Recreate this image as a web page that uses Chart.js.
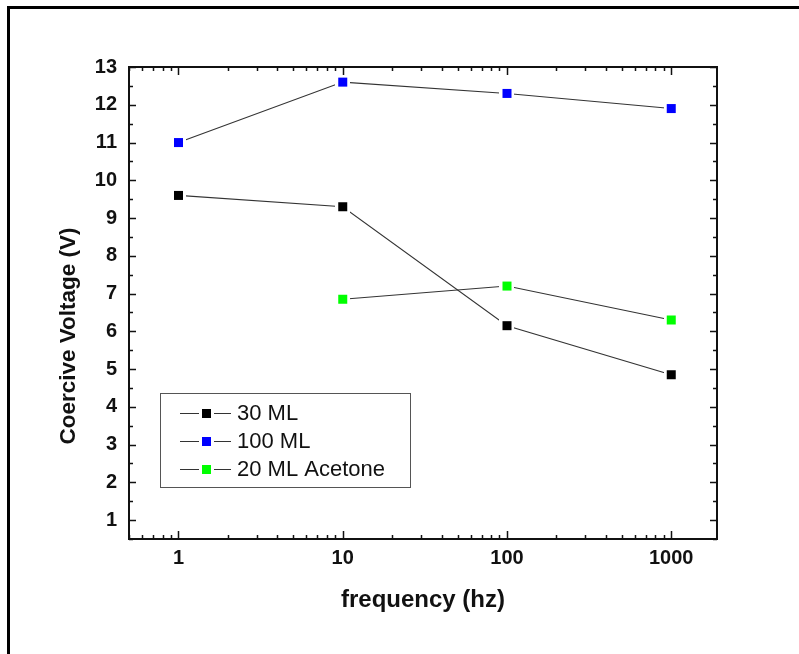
<!DOCTYPE html>
<html><head><meta charset="utf-8">
<script src="https://cdn.jsdelivr.net/npm/chart.js@4/dist/chart.umd.min.js"></script>
<style>html,body{margin:0;padding:0;background:#fff;overflow:hidden}#wrap{width:799px;height:654px;position:relative}</style>
</head><body><div id="wrap"><canvas id="c" width="799" height="654"></canvas></div>
<script>
// ---- data ----
const frequencies = [1, 10, 100, 1000];
const ml30 = [9.6, 9.3, 6.15, 4.85];
const ml100 = [11.0, 12.6, 12.3, 11.9];
const acetone20 = [null, 6.85, 7.2, 6.3];
const seriesNames = ['30 ML', '100 ML', '20 ML Acetone'];
const seriesColors = ['#000000', '#0000ff', '#00ff00'];
const xTickValues = [1, 10, 100, 1000];
const yTickValues = [1, 2, 3, 4, 5, 6, 7, 8, 9, 10, 11, 12, 13];
const xAxisTitle = 'frequency (hz)';
const yAxisTitle = 'Coercive Voltage (V)';

const FONT = '"Liberation Sans", Arial, Helvetica, sans-serif';

function markerImg(color, size, halo) {
  const c = document.createElement('canvas');
  const s = size + 2 * halo;
  c.width = s; c.height = s;
  const g = c.getContext('2d');
  g.fillStyle = '#ffffff'; g.fillRect(0, 0, s, s);
  g.fillStyle = color; g.fillRect(halo, halo, size, size);
  return c;
}

function toPoints(ys) {
  return frequencies.map((f, i) => ({ x: f, y: ys[i] }));
}

const seriesValues = [ml30, ml100, acetone20];
const datasets = seriesValues.map((vals, i) => ({
  label: seriesNames[i],
  data: toPoints(vals),
  borderColor: '#333333',
  borderWidth: 1.1,
  pointStyle: markerImg(seriesColors[i], 9, 3),
  pointRadius: 6,
  backgroundColor: seriesColors[i],
  tension: 0,
  spanGaps: false
}));

// minor tick positions (log decades, half-units)
const xMinor = [];
[0.1, 1, 10, 100, 1000].forEach(d => { for (let k = 2; k <= 9; k++) { const v = d * k; if (v >= 0.5 && v <= 1900) xMinor.push(v); } });
const yMinor = [];
for (let v = 0.5; v <= 13; v += 1) yMinor.push(v);

const framePlugin = {
  id: 'frame',
  beforeDraw(chart) {
    const ctx = chart.ctx;
    ctx.save();
    ctx.strokeStyle = '#000';
    ctx.lineWidth = 3;
    ctx.beginPath();
    ctx.moveTo(8.5, 654); ctx.lineTo(8.5, 7.5); ctx.lineTo(799, 7.5);
    ctx.stroke();
    // y axis title
    ctx.translate(69, 336);
    ctx.rotate(-Math.PI / 2);
    ctx.font = 'bold 22.5px ' + FONT;
    ctx.fillStyle = '#111';
    ctx.textAlign = 'center';
    ctx.textBaseline = 'middle';
    ctx.fillText(yAxisTitle, 0, 0);
    ctx.restore();
  },
  afterDatasetsDraw(chart) {
    const ctx = chart.ctx;
    const a = chart.chartArea;
    const xs = chart.scales.x, ys = chart.scales.y;
    ctx.save();
    ctx.strokeStyle = '#111';
    ctx.lineWidth = 2;
    ctx.beginPath();
    ctx.rect(a.left, a.top, a.right - a.left, a.bottom - a.top);
    ctx.stroke();
    ctx.lineWidth = 1.5;
    ctx.beginPath();
    const tick = (x1, y1, x2, y2) => { ctx.moveTo(x1, y1); ctx.lineTo(x2, y2); };
    xTickValues.forEach(v => { const p = Math.round(xs.getPixelForValue(v)) + 0.5; tick(p, a.bottom, p, a.bottom - 8); tick(p, a.top, p, a.top + 8); });
    xMinor.forEach(v => { const p = Math.round(xs.getPixelForValue(v)) + 0.5; tick(p, a.bottom, p, a.bottom - 4); tick(p, a.top, p, a.top + 4); });
    yTickValues.forEach(v => { const p = Math.round(ys.getPixelForValue(v)) + 0.5; tick(a.left, p, a.left + 7, p); tick(a.right, p, a.right - 7, p); });
    yMinor.forEach(v => { const p = Math.round(ys.getPixelForValue(v)) + 0.5; tick(a.left, p, a.left + 4, p); tick(a.right, p, a.right - 4, p); });
    ctx.stroke();

    // legend box inside plot
    ctx.lineWidth = 1;
    ctx.strokeStyle = '#555';
    ctx.strokeRect(160.5, 393.5, 250, 94);
    ctx.font = '22px ' + FONT;
    ctx.textBaseline = 'middle';
    ctx.textAlign = 'left';
    const rowY = [413, 441, 469];
    seriesNames.forEach((name, i) => {
      const y = rowY[i] + 0.5;
      ctx.strokeStyle = '#333';
      ctx.beginPath();
      ctx.moveTo(180, y); ctx.lineTo(199, y);
      ctx.moveTo(214, y); ctx.lineTo(231, y);
      ctx.stroke();
      ctx.fillStyle = seriesColors[i];
      ctx.fillRect(202, rowY[i] - 4, 9, 9);
      ctx.fillStyle = '#111';
      ctx.fillText(name, 237, rowY[i] + 1);
    });
    ctx.restore();
  }
};

new Chart(document.getElementById('c'), {
  type: 'line',
  data: { datasets },
  options: {
    responsive: false,
    animation: false,
    devicePixelRatio: 1,
    layout: { padding: { left: 0, top: 67, right: 82, bottom: 0 } },
    plugins: { legend: { display: false }, tooltip: { enabled: false } },
    scales: {
      x: {
        type: 'logarithmic',
        min: 0.5, max: 1900,
        grid: { display: false, drawTicks: false },
        border: { display: false },
        afterBuildTicks(s) { s.ticks = xTickValues.map(v => ({ value: v })); },
        afterFit(s) { s.height = 654 - 539; },
        ticks: {
          autoSkip: false, maxRotation: 0, padding: 7, color: '#111',
          font: { family: FONT, size: 20, weight: 'bold' },
          callback: v => String(v)
        },
        title: { display: true, text: xAxisTitle, color: '#111', padding: { top: 0, bottom: 39 },
          font: { family: FONT, size: 24, weight: 'bold' } }
      },
      y: {
        min: 0.5, max: 13,
        grid: { display: false, drawTicks: false },
        border: { display: false },
        afterBuildTicks(s) { s.ticks = yTickValues.map(v => ({ value: v })); },
        afterFit(s) { s.width = 129; },
        ticks: {
          autoSkip: false, padding: 12, color: '#111',
          font: { family: FONT, size: 20, weight: 'bold' },
          callback: v => String(v)
        },
        title: { display: false, text: yAxisTitle }
      }
    }
  },
  plugins: [framePlugin]
});
</script>
</body></html>
